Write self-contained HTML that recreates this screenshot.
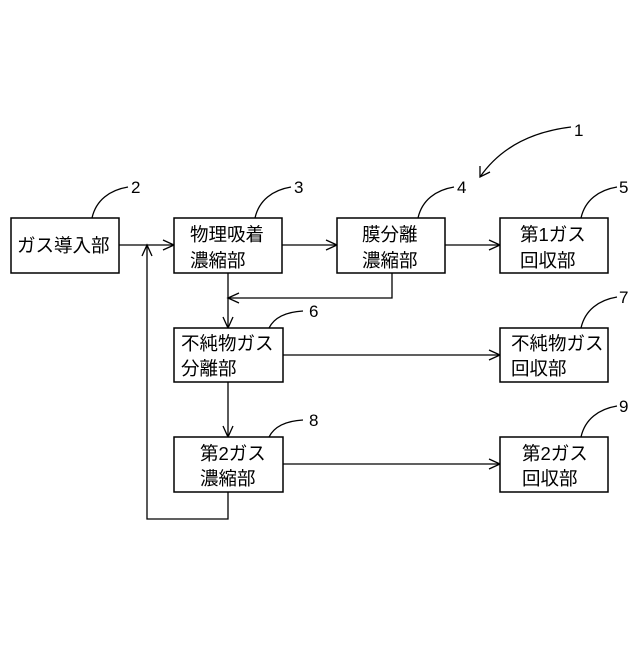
<!DOCTYPE html>
<html><head><meta charset="utf-8"><style>
body{margin:0;background:#fff}
svg text{font-family:"Liberation Sans","Noto Sans CJK JP",sans-serif;fill:#000}
.b{fill:#fff;stroke:#000;stroke-width:1.5}
.l{fill:none;stroke:#000;stroke-width:1.3}
.t{font-size:18.5px}
.n{font-size:17px}
</style></head><body>
<svg width="640" height="640" viewBox="0 0 640 640" xmlns="http://www.w3.org/2000/svg">
<g class="l">
<path d="M119 245H174"/><path d="M163 240L174 245L163 250"/>
<path d="M282 245H337"/><path d="M326 240L337 245L326 250"/>
<path d="M445 245H500"/><path d="M489 240L500 245L489 250"/>
<path d="M392 273V298H228"/><path d="M239 293L228 298L239 303"/>
<path d="M228 273V328"/><path d="M223 317L228 328L233 317"/>
<path d="M228 382V437"/><path d="M223 426L228 437L233 426"/>
<path d="M283 355H500"/><path d="M489 350L500 355L489 360"/>
<path d="M283 464H500"/><path d="M489 459L500 464L489 469"/>
<path d="M228 492V519H147V245"/><path d="M142 256L147 245L152 256"/>
<path d="M92 218C96 200 110 190 128 187"/>
<path d="M255 218C259 200 273 190 291 187"/>
<path d="M418 218C422 200 436 190 454 187"/>
<path d="M581 218C585 200 599 190 617 187"/>
<path d="M581 328C585 310 599 300 617 297"/>
<path d="M269 328C274 318 285 312 303 311"/>
<path d="M269 437C274 427 285 421 303 420"/>
<path d="M571 127C530 132 500 148 480 177"/><path d="M480 166L480 177L490 172"/>
<path d="M581 437C585 419 599 409 617 406"/>
</g>
<rect class="b" x="11" y="218" width="108" height="55"/>
<rect class="b" x="174" y="218" width="108" height="55"/>
<rect class="b" x="337" y="218" width="108" height="55"/>
<rect class="b" x="500" y="218" width="108" height="55"/>
<rect class="b" x="174" y="328" width="109" height="54"/>
<rect class="b" x="500" y="328" width="108" height="54"/>
<rect class="b" x="174" y="437" width="109" height="55"/>
<rect class="b" x="500" y="437" width="108" height="55"/>
<g class="t">
<text x="17" y="252">ガス導入部</text>
<text x="190" y="241">物理吸着</text><text x="190" y="267">濃縮部</text>
<text x="362" y="241">膜分離</text><text x="362" y="267">濃縮部</text>
<text x="520" y="241">第1ガス</text><text x="520" y="267">回収部</text>
<text x="181" y="350">不純物ガス</text><text x="181" y="375">分離部</text>
<text x="511" y="350">不純物ガス</text><text x="511" y="375">回収部</text>
<text x="200" y="460">第2ガス</text><text x="200" y="485">濃縮部</text>
<text x="522" y="460">第2ガス</text><text x="522" y="485">回収部</text>
</g>
<g class="n">
<text x="131" y="193">2</text><text x="294" y="193">3</text><text x="457" y="193">4</text>
<text x="619" y="193">5</text><text x="574" y="136">1</text>
<text x="309" y="317">6</text><text x="619" y="303">7</text>
<text x="309" y="426">8</text><text x="619" y="412">9</text>
</g>
</svg>
</body></html>
